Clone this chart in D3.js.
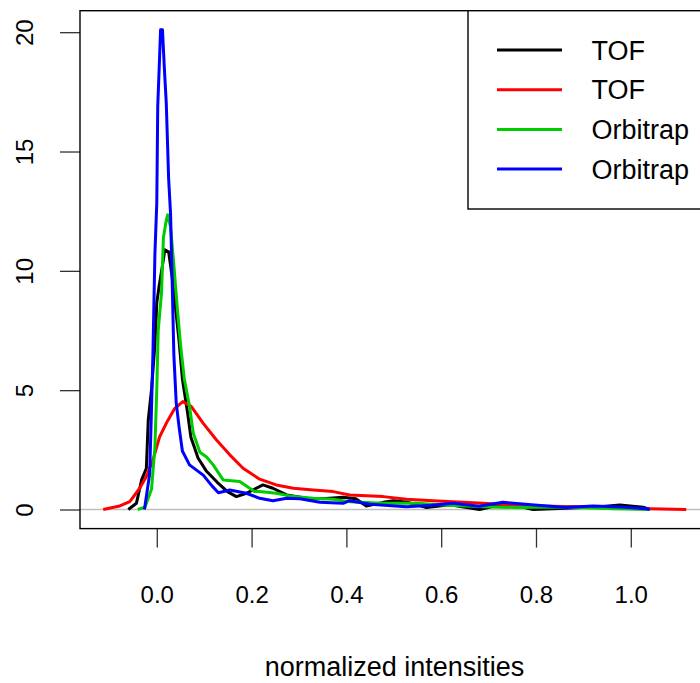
<!DOCTYPE html>
<html>
<head>
<meta charset="utf-8">
<script src="https://cdn.jsdelivr.net/npm/d3@7"></script>
<style>
  html, body { margin: 0; padding: 0; background: #fff; }
  svg { display: block; font-family: "Liberation Sans", Arial, Helvetica, sans-serif; }
</style>
</head>
<body>
<svg id="chart" width="700" height="683"></svg>
<script>
// ---- data ----
const seriesNames = ["TOF", "TOF", "Orbitrap", "Orbitrap"];
const seriesColors = ["#000000", "#FF0000", "#00CD00", "#0000FF"];

const tof1X = [-0.060, -0.043, -0.032, -0.022, -0.018, -0.011, -0.004, 0.000, 0.005, 0.011, 0.017, 0.025, 0.032, 0.040, 0.047, 0.054, 0.065, 0.072, 0.087, 0.105, 0.127, 0.149, 0.168, 0.189, 0.224, 0.245, 0.274, 0.316, 0.350, 0.393, 0.420, 0.442, 0.478, 0.499, 0.530, 0.569, 0.618, 0.681, 0.738, 0.794, 0.860, 0.935, 0.977, 1.026, 1.040];
const tof1Y = [0, 0.26, 1.24, 1.73, 3.75, 5.05, 6.92, 8.66, 9.38, 10.1, 10.88, 10.8, 9.8, 8.37, 7.07, 5.48, 4.04, 3.03, 2.16, 1.6, 1.15, 0.75, 0.54, 0.68, 1.03, 0.89, 0.61, 0.47, 0.45, 0.51, 0.45, 0.15, 0.3, 0.37, 0.3, 0.08, 0.2, 0.0, 0.26, 0.0, 0.05, 0.12, 0.19, 0.1, 0.0];

const tof2X = [-0.113, -0.078, -0.057, -0.036, -0.022, -0.008, 0.006, 0.020, 0.038, 0.055, 0.073, 0.098, 0.126, 0.154, 0.182, 0.217, 0.252, 0.288, 0.330, 0.372, 0.407, 0.478, 0.527, 0.583, 0.688, 0.794, 0.900, 0.970, 1.040, 1.117];
const tof2Y = [0.0, 0.15, 0.33, 0.89, 1.38, 2.08, 3.05, 3.61, 4.24, 4.52, 4.31, 3.61, 2.91, 2.29, 1.73, 1.27, 1.03, 0.89, 0.82, 0.75, 0.61, 0.54, 0.43, 0.37, 0.26, 0.15, 0.12, 0.06, 0.03, 0.0];

const orbi1X = [-0.040, -0.025, -0.011, -0.004, 0.000, 0.003, 0.010, 0.014, 0.020, 0.023, 0.029, 0.036, 0.043, 0.050, 0.058, 0.069, 0.077, 0.091, 0.105, 0.119, 0.140, 0.175, 0.206, 0.217, 0.252, 0.288, 0.330, 0.372, 0.407, 0.477, 0.548, 0.604, 0.688, 0.759, 0.850, 0.970, 1.040];
const orbi1Y = [0, 0.1, 0.86, 2.59, 5.05, 7.5, 9.09, 11.4, 12.12, 12.35, 11.84, 10.25, 8.5, 6.93, 5.48, 4.33, 3.2, 2.4, 2.2, 1.87, 1.24, 1.17, 0.75, 0.75, 0.68, 0.54, 0.47, 0.43, 0.33, 0.26, 0.26, 0.19, 0.12, 0.08, 0.1, 0.03, 0.0];

const orbi2X = [-0.026, -0.015, -0.011, -0.008, -0.004, 0.000, 0.002, 0.005, 0.008, 0.012, 0.016, 0.020, 0.025, 0.029, 0.032, 0.036, 0.041, 0.047, 0.054, 0.069, 0.098, 0.116, 0.130, 0.154, 0.189, 0.217, 0.245, 0.274, 0.302, 0.344, 0.393, 0.407, 0.450, 0.527, 0.580, 0.625, 0.680, 0.730, 0.790, 0.864, 0.920, 0.980, 1.033, 1.040];
const orbi2Y = [0, 1.5, 4.33, 6.64, 10.68, 12.84, 16.9, 18.47, 20.1, 20.1, 18.47, 17.03, 13.86, 12.41, 9.96, 6.49, 4.47, 3.46, 2.45, 1.87, 1.44, 1.0, 0.7, 0.82, 0.68, 0.47, 0.37, 0.47, 0.45, 0.3, 0.26, 0.37, 0.22, 0.12, 0.18, 0.26, 0.14, 0.3, 0.2, 0.08, 0.15, 0.1, 0.03, 0.0];

const xTicks = [0.0, 0.2, 0.4, 0.6, 0.8, 1.0];
const xTickLabels = ["0.0", "0.2", "0.4", "0.6", "0.8", "1.0"];
const yTicks = [0, 5, 10, 15, 20];
const yTickLabels = ["0", "5", "10", "15", "20"];
const xTitle = "normalized intensities";

const seriesX = [tof1X, tof2X, orbi1X, orbi2X];
const seriesY = [tof1Y, tof2Y, orbi1Y, orbi2Y];

// ---- layout ----
const svg = d3.select("#chart");
const box = { left: 80, right: 709, top: 10.7, bottom: 528.6 };
const x = d3.scaleLinear().domain([-0.162, 1.165]).range([box.left, box.right]);
const y = d3.scaleLinear().domain([-0.8, 20.9]).range([box.bottom, box.top]);

// zero line
svg.append("line")
  .attr("x1", box.left).attr("x2", box.right)
  .attr("y1", y(0)).attr("y2", y(0))
  .attr("stroke", "#bebebe").attr("stroke-width", 1.3);

// curves
const line = d3.line().x(d => x(d[0])).y(d => y(d[1]));
seriesX.forEach((xs, i) => {
  const pts = xs.map((v, j) => [v, seriesY[i][j]]);
  svg.append("path")
    .datum(pts)
    .attr("d", line)
    .attr("fill", "none")
    .attr("stroke", seriesColors[i])
    .attr("stroke-width", 3)
    .attr("stroke-linejoin", "round");
});

// x axis
const xAxis = d3.axisBottom(x).tickValues(xTicks)
  .tickFormat((d, i) => xTickLabels[i]).tickSize(19).tickPadding(38);
const gx = svg.append("g").attr("transform", `translate(0,${box.bottom})`).call(xAxis);
gx.select(".domain").remove();
gx.selectAll(".tick line").attr("stroke", "#333").attr("stroke-width", 1.3);
gx.selectAll(".tick text").attr("font-size", 24).attr("fill", "#000")
  .attr("font-family", "'Liberation Sans', Arial, sans-serif");

// y axis
const yAxis = d3.axisLeft(y).tickValues(yTicks)
  .tickFormat((d, i) => yTickLabels[i]).tickSize(20).tickPadding(0);
const gy = svg.append("g").attr("transform", `translate(${box.left},0)`).call(yAxis);
gy.select(".domain").remove();
gy.selectAll(".tick line").attr("stroke", "#333").attr("stroke-width", 1.3);
gy.selectAll(".tick text").remove();
gy.selectAll(".tick").append("text")
  .attr("transform", "translate(-47,0) rotate(-90)")
  .attr("text-anchor", "middle")
  .attr("font-size", 24)
  .attr("fill", "#000")
  .attr("font-family", "'Liberation Sans', Arial, sans-serif")
  .text((d, i) => yTickLabels[i]);

// plot box
svg.append("rect")
  .attr("x", box.left).attr("y", box.top)
  .attr("width", box.right - box.left).attr("height", box.bottom - box.top)
  .attr("fill", "none").attr("stroke", "#000").attr("stroke-width", 1.4);

// x title
svg.append("text")
  .attr("x", (box.left + box.right) / 2).attr("y", 676)
  .attr("text-anchor", "middle").attr("font-size", 27).attr("fill", "#000")
  .text(xTitle);

// legend
const leg = { left: 468, top: box.top, bottom: 209, right: 760 };
svg.append("rect")
  .attr("x", leg.left).attr("y", leg.top)
  .attr("width", leg.right - leg.left).attr("height", leg.bottom - leg.top)
  .attr("fill", "#fff").attr("stroke", "#000").attr("stroke-width", 1.4);
seriesNames.forEach((name, i) => {
  const yy = 50 + i * 39.7;
  svg.append("line")
    .attr("x1", 497).attr("x2", 562).attr("y1", yy).attr("y2", yy)
    .attr("stroke", seriesColors[i]).attr("stroke-width", 3);
  svg.append("text")
    .attr("x", 591.5).attr("y", yy).attr("dy", "0.36em")
    .attr("font-size", 27).attr("fill", "#000")
    .text(name);
});
</script>
</body>
</html>
